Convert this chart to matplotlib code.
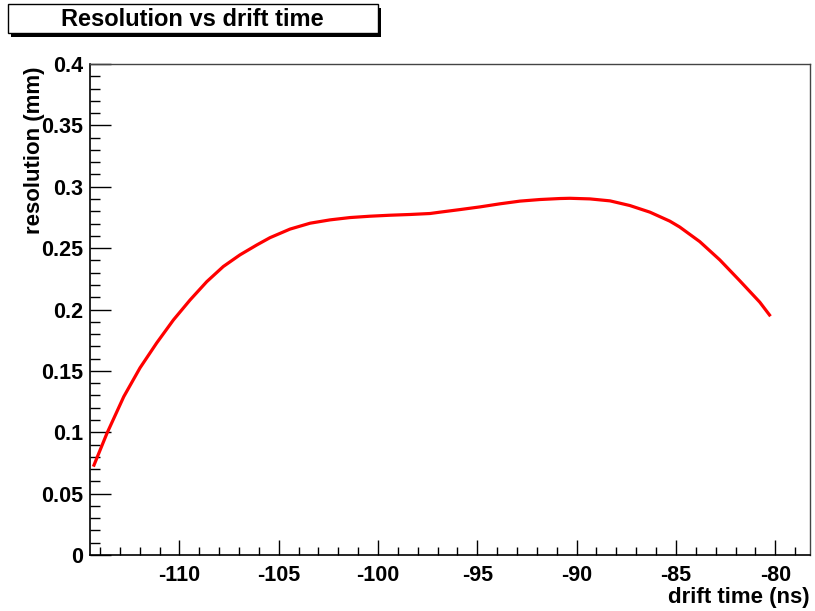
import matplotlib
matplotlib.use("Agg")
import matplotlib.pyplot as plt
from matplotlib.patches import Rectangle
from matplotlib.ticker import MultipleLocator

# Data
drift_time = [-114.33, -113.65, -112.8, -111.98, -111.14, -110.3, -109.46, -108.62,
              -107.79, -106.95, -106.1, -105.44, -104.43, -103.42, -102.42, -101.41,
              -100.4, -99.4, -98.39, -97.38, -96.88, -95.87, -94.86, -93.86,
              -92.85, -91.84, -90.84, -90.34, -89.33, -88.32, -87.32, -86.31,
              -85.31, -84.81, -83.8, -82.79, -81.79, -80.78, -80.24]
resolution = [0.072, 0.099, 0.129, 0.1525, 0.1728, 0.1915, 0.2078, 0.2227,
              0.235, 0.2445, 0.2526, 0.2585, 0.2655, 0.2703, 0.2730, 0.2749,
              0.2760, 0.2768, 0.2774, 0.2782, 0.2793, 0.2814, 0.2836, 0.2861,
              0.2883, 0.2896, 0.2904, 0.2906, 0.2901, 0.2885, 0.2847, 0.2793,
              0.2720, 0.2672, 0.2553, 0.2404, 0.2235, 0.2060, 0.1945]

title = "Resolution vs drift time"
xlabel = "drift time (ns)"
ylabel = "resolution (mm)"
xticks = [-110, -105, -100, -95, -90, -85, -80]
yticks = [0, 0.05, 0.1, 0.15, 0.2, 0.25, 0.3, 0.35, 0.4]
ytick_labels = ["0", "0.05", "0.1", "0.15", "0.2", "0.25", "0.3", "0.35", "0.4"]

plt.rcParams['font.family'] = ['Liberation Sans', 'DejaVu Sans']
plt.rcParams['font.weight'] = 'bold'

W, H = 815, 611
fig = plt.figure(figsize=(W / 100, H / 100), dpi=100)
fig.patch.set_facecolor('white')

ax = fig.add_axes([90 / W, 1 - 555 / H, (810 - 90) / W, (555 - 64) / H])
ax.plot(drift_time, resolution, color='#ff0000', lw=2.3, solid_capstyle='butt',
        solid_joinstyle='round')
ax.set_xlim(-114.5, -78.25)
ax.set_ylim(0, 0.4)

ax.set_xticks(xticks)
ax.set_xticklabels([str(t) for t in xticks])
ax.set_yticks(yticks)
ax.set_yticklabels(ytick_labels)
ax.xaxis.set_minor_locator(MultipleLocator(1))
ax.yaxis.set_minor_locator(MultipleLocator(0.01))

ax.tick_params(axis='x', which='major', direction='in', length=11, width=1, pad=7,
               labelsize=15.5, top=False)
ax.tick_params(axis='x', which='minor', direction='in', length=5.5, width=1, top=False)
ax.tick_params(axis='y', which='major', direction='in', length=15, width=1, pad=5,
               labelsize=15.5, right=False)
ax.tick_params(axis='y', which='minor', direction='in', length=7.5, width=1, right=False)
for lab in ax.get_xticklabels() + ax.get_yticklabels():
    lab.set_fontweight('bold')

for side in ['left', 'bottom']:
    ax.spines[side].set_linewidth(1.2)
    ax.spines[side].set_color('black')
for side in ['top', 'right']:
    ax.spines[side].set_linewidth(1.0)
    ax.spines[side].set_color('#444444')

# Axis titles (ROOT style: right/top aligned)
fig.text(810 / W, 1 - 597 / H, xlabel, ha='right', va='center',
         fontsize=16, fontweight='bold')
fig.text(35 / W, 1 - 66 / H, ylabel, ha='center', va='top', rotation=90,
         fontsize=16, fontweight='bold')

# Title box with shadow
shadow = Rectangle((11 / W, 1 - 37 / H), 370 / W, 29 / H, transform=fig.transFigure,
                   facecolor='black', edgecolor='black', lw=0)
box = Rectangle((8 / W, 1 - 33 / H), 370 / W, 29 / H, transform=fig.transFigure,
                facecolor='white', edgecolor='black', lw=1.0)
fig.patches.extend([shadow, box])
fig.text(192 / W, 1 - 19 / H, title, ha='center', va='center',
         fontsize=17, fontweight='bold')

fig.savefig('out.png', dpi=100)
